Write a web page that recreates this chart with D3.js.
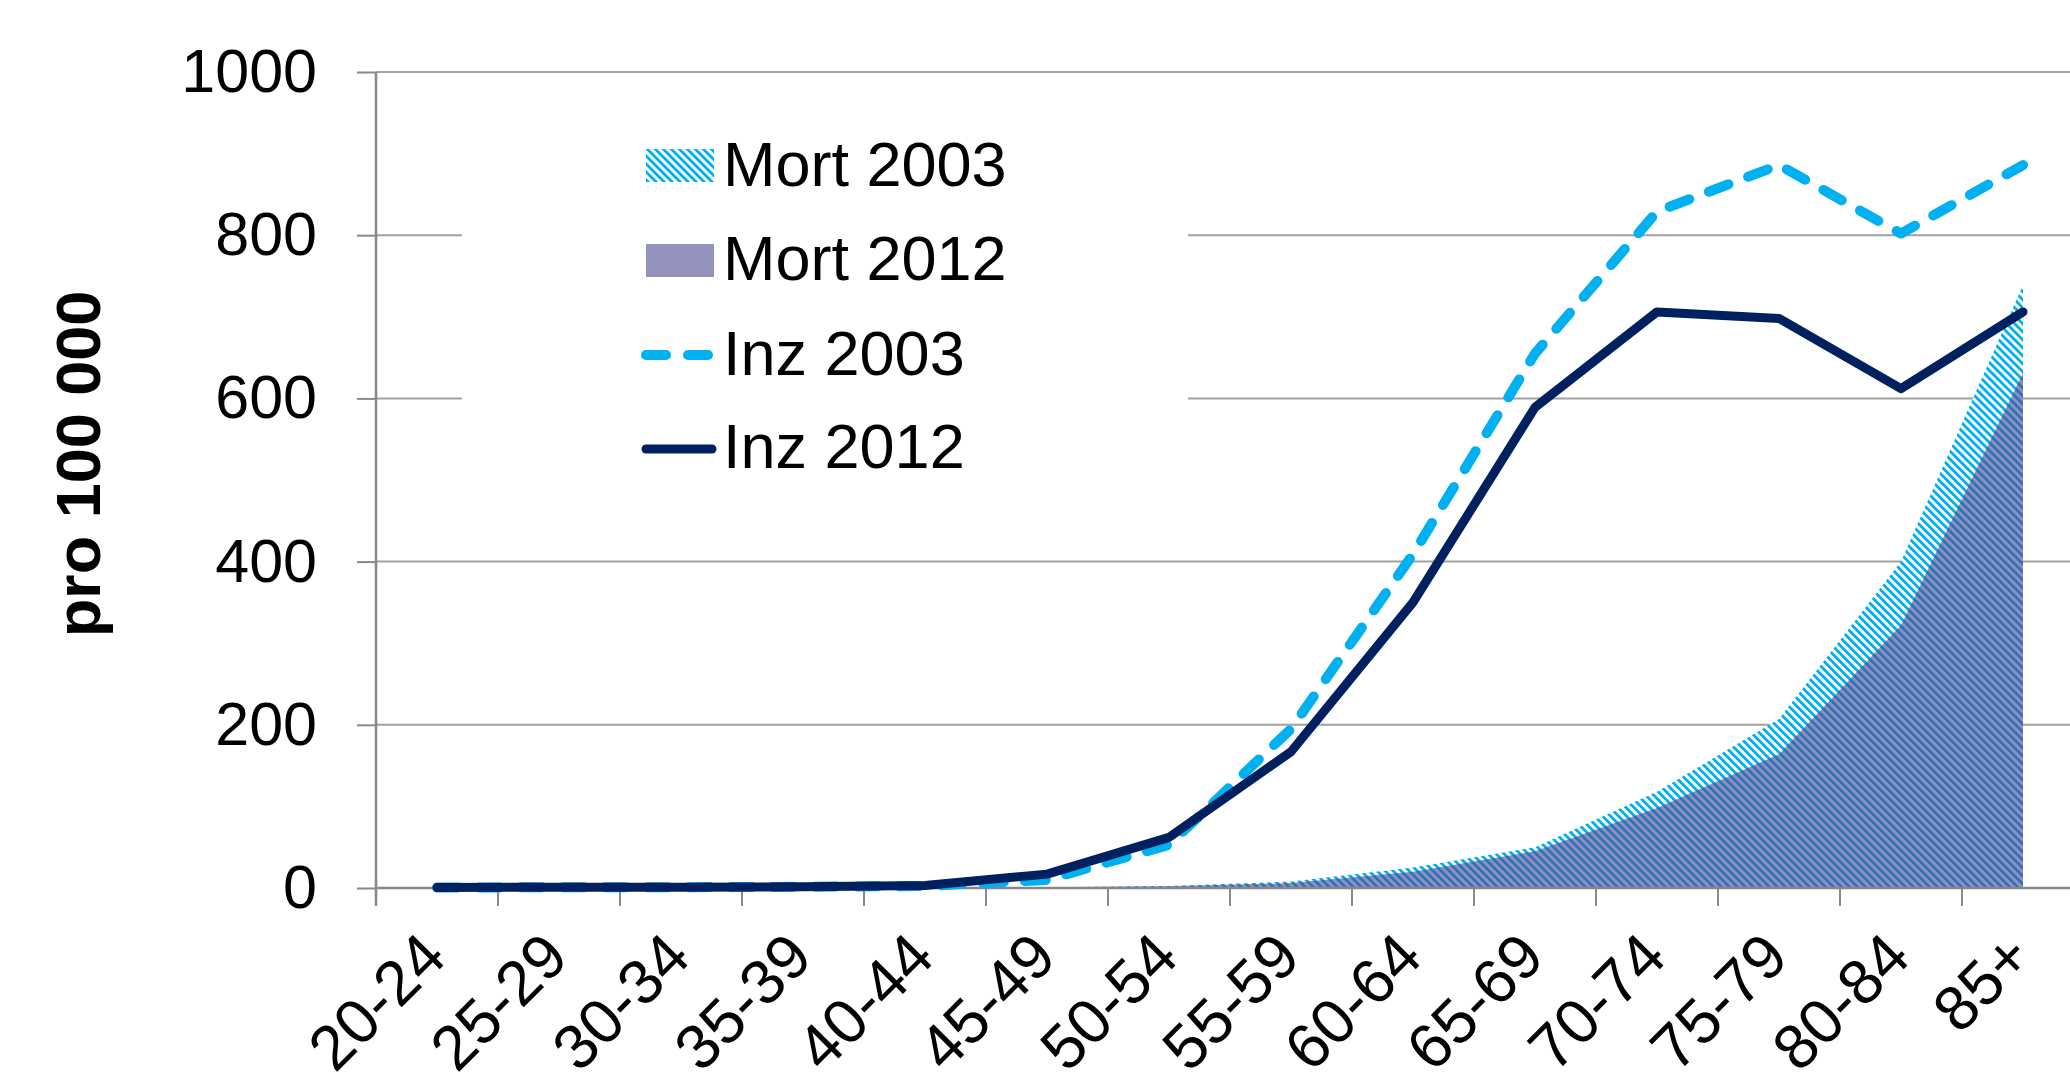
<!DOCTYPE html>
<html>
<head>
<meta charset="utf-8">
<script src="https://cdn.jsdelivr.net/npm/d3@7"></script>
<style>
  body { margin: 0; background: #fff; }
  svg { display: block; font-family: "Liberation Sans", Arial, sans-serif; }
</style>
</head>
<body>
<svg width="2070" height="1079"></svg>
<script>
const ageGroups = ["20-24", "25-29", "30-34", "35-39", "40-44", "45-49", "50-54",
  "55-59", "60-64", "65-69", "70-74", "75-79", "80-84", "85+"];
const mort2003 = [0, 0, 0, 0.2, 0.5, 1, 2.5, 8, 25, 50, 118, 207, 400, 739];
const mort2012 = [0, 0, 0, 0.1, 0.3, 0.8, 2, 6, 20, 45, 98, 164, 322, 631];
const inz2003 = [0.5, 1, 1, 1.5, 2.5, 10, 53, 195, 409, 655, 829, 886, 802, 886];
const inz2012 = [0.5, 1, 1, 1.5, 3, 17, 62, 167, 350, 589, 706, 698, 612, 706];
const yTicks = [0, 200, 400, 600, 800, 1000];
const legendLabels = ["Mort 2003", "Mort 2012", "Inz 2003", "Inz 2012"];

const svg = d3.select("svg"),
  plotLeft = 376,
  plotRight = 2084,
  plotTop = 72,
  plotBottom = 888;

const x = d3.scaleBand().domain(ageGroups).range([plotLeft, plotRight]).padding(0),
  y = d3.scaleLinear().domain([0, 1000]).range([plotBottom, plotTop]);
const cx = d => x(d) + x.bandwidth() / 2;

// hatch fills
const defs = svg.append("defs");
const p1 = defs.append("pattern")
  .attr("id", "hatch03")
  .attr("patternUnits", "userSpaceOnUse")
  .attr("width", 5.66).attr("height", 5.66)
  .attr("patternTransform", "rotate(-45)");
p1.append("rect").attr("width", 5.66).attr("height", 5.66).attr("fill", "#fff");
p1.append("rect").attr("width", 2.83).attr("height", 5.66).attr("fill", "#00b0f0");

const p2 = defs.append("pattern")
  .attr("id", "hatch12")
  .attr("patternUnits", "userSpaceOnUse")
  .attr("width", 5.66).attr("height", 5.66)
  .attr("patternTransform", "rotate(-45)");
p2.append("rect").attr("width", 5.66).attr("height", 5.66).attr("fill", "#9090be");
p2.append("rect").attr("width", 2.83).attr("height", 5.66).attr("fill", "#2f72b8");

// gridlines
svg.append("g")
  .selectAll("line")
  .data(yTicks)
  .enter()
  .append("line")
  .attr("x1", plotLeft).attr("x2", 2070)
  .attr("y1", d => y(d)).attr("y2", d => y(d))
  .attr("stroke", "#a0a0a0")
  .attr("stroke-width", 2);

// areas
const area = vals => d3.area()
  .x((d, i) => cx(ageGroups[i]))
  .y0(y(0))
  .y1(d => y(d))(vals);

svg.append("path").attr("d", area(mort2003)).attr("fill", "url(#hatch03)");
svg.append("path").attr("d", area(mort2012)).attr("fill", "url(#hatch12)");

// y axis
const yAxis = svg.append("g")
  .attr("transform", `translate(${plotLeft},0)`)
  .call(d3.axisLeft(y).tickValues(yTicks).tickFormat(d3.format("d"))
    .tickSize(19).tickPadding(40).tickSizeOuter(0));
yAxis.select(".domain").remove();
yAxis.selectAll(".tick line").attr("stroke", "#888").attr("stroke-width", 2);
yAxis.selectAll(".tick text")
  .attr("font-size", 61)
  .attr("font-family", "Liberation Sans, Arial, sans-serif")
  .attr("fill", "#000");

svg.append("line")
  .attr("x1", plotLeft).attr("x2", plotLeft)
  .attr("y1", y(1000)).attr("y2", plotBottom + 18)
  .attr("stroke", "#888").attr("stroke-width", 2.5);
svg.append("line")
  .attr("x1", plotLeft).attr("x2", 2070)
  .attr("y1", plotBottom).attr("y2", plotBottom)
  .attr("stroke", "#888").attr("stroke-width", 2.5);

// x axis ticks at band edges, labels at centres
svg.append("g")
  .selectAll("line")
  .data(ageGroups)
  .enter()
  .append("line")
  .attr("x1", d => x(d)).attr("x2", d => x(d))
  .attr("y1", plotBottom).attr("y2", plotBottom + 18)
  .attr("stroke", "#888").attr("stroke-width", 2);

svg.append("g")
  .selectAll("text")
  .data(ageGroups)
  .enter()
  .append("text")
  .attr("transform", d => `translate(${cx(d) + 12},${plotBottom + 72}) rotate(-45)`)
  .attr("text-anchor", "end")
  .attr("font-size", 63)
  .text(d => d);

// y title
svg.append("text")
  .attr("transform", "translate(100,464) rotate(-90)")
  .attr("text-anchor", "middle")
  .attr("font-size", 63)
  .attr("font-weight", "bold")
  .text("pro 100 000");

// lines
const line = d3.line().x((d, i) => cx(ageGroups[i])).y(d => y(d));

svg.append("path")
  .attr("d", line(inz2003))
  .attr("fill", "none")
  .attr("stroke", "#00b0f0")
  .attr("stroke-width", 10)
  .attr("stroke-linecap", "round")
  .attr("stroke-linejoin", "round")
  .attr("stroke-dasharray", "21,21");

svg.append("path")
  .attr("d", line(inz2012))
  .attr("fill", "none")
  .attr("stroke", "#002060")
  .attr("stroke-width", 9)
  .attr("stroke-linecap", "round")
  .attr("stroke-linejoin", "round");

// legend
const lg = svg.append("g");
lg.append("rect")
  .attr("x", 462).attr("y", 95)
  .attr("width", 726).attr("height", 410)
  .attr("fill", "#fff");

const rowY = [186, 280, 375, 468];
lg.append("rect").attr("x", 646).attr("y", 149).attr("width", 68).attr("height", 33)
  .attr("fill", "url(#hatch03)");
lg.append("rect").attr("x", 646).attr("y", 244).attr("width", 68).attr("height", 33)
  .attr("fill", "#9393bd");
lg.append("line").attr("x1", 646).attr("x2", 712).attr("y1", 355).attr("y2", 355)
  .attr("stroke", "#00b0f0").attr("stroke-width", 10)
  .attr("stroke-linecap", "round").attr("stroke-dasharray", "20,22");
lg.append("line").attr("x1", 646).attr("x2", 712).attr("y1", 449).attr("y2", 449)
  .attr("stroke", "#002060").attr("stroke-width", 9)
  .attr("stroke-linecap", "round");

lg.selectAll("text.lab")
  .data(legendLabels)
  .enter()
  .append("text")
  .attr("class", "lab")
  .attr("x", 723)
  .attr("y", (d, i) => rowY[i])
  .attr("font-size", 63)
  .text(d => d);
</script>
</body>
</html>
